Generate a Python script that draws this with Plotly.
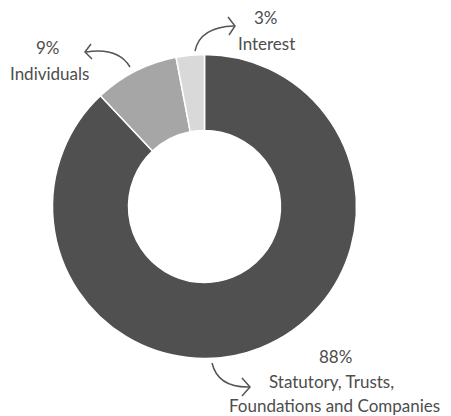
import plotly.graph_objects as go

labels = ["Statutory, Trusts, Foundations and Companies", "Individuals", "Interest"]
values = [88, 9, 3]
colors = ["#505050", "#a6a6a6", "#d9d9d9"]

# The page body has an 8px margin; draw in a figure offset by that margin.
OFF = 8
W, H = 451 - OFF, 416 - OFF


def px(x):
    return (x - OFF) / W


def py(y):
    return 1 - (y - OFF) / H


cx, cy, r = 204.5, 206.5, 152

fig = go.Figure(go.Pie(
    labels=labels,
    values=values,
    hole=0.5,
    sort=False,
    direction="clockwise",
    rotation=0,
    textinfo="none",
    hoverinfo="label+percent",
    marker=dict(colors=colors, line=dict(color="white", width=1.5)),
    domain=dict(x=[px(cx - r), px(cx + r)], y=[py(cy + r), py(cy - r)]),
    showlegend=False,
))

txt_color = "#4d4d4d"
font = dict(family="Lato, Open Sans, sans-serif", size=17, color=txt_color)

lines = [
    ("3%", 266, 17), ("Interest", 266, 43),
    ("9%", 48, 47), ("Individuals", 49, 74),
    ("88%", 335, 356), ("Statutory, Trusts,", 331, 381), ("Foundations and Companies", 334, 405),
]
annotations = []
for t, x, y in lines:
    annotations.append(dict(text=t, x=px(x), y=py(y), xref="paper", yref="paper",
                            showarrow=False, xanchor="center", yanchor="middle", font=font))


def P(x, y):
    return f"{px(x):.5f},{py(y):.5f}"


arrow_color = "#555555"
lw = 1.5
shapes = []
# Individuals arrow
shapes.append(dict(type="path", xref="paper", yref="paper",
                   path=f"M {P(130,67)} Q {P(118,47)} {P(86,52)}",
                   line=dict(color=arrow_color, width=lw)))
shapes.append(dict(type="path", xref="paper", yref="paper",
                   path=f"M {P(91,44)} L {P(85,52)} L {P(92,59)}",
                   line=dict(color=arrow_color, width=lw)))
# Interest arrow
shapes.append(dict(type="path", xref="paper", yref="paper",
                   path=f"M {P(195,51)} Q {P(200,27)} {P(234,26)}",
                   line=dict(color=arrow_color, width=lw)))
shapes.append(dict(type="path", xref="paper", yref="paper",
                   path=f"M {P(228,17)} L {P(235,26)} L {P(229,35)}",
                   line=dict(color=arrow_color, width=lw)))
# 88% arrow
shapes.append(dict(type="path", xref="paper", yref="paper",
                   path=f"M {P(212,363)} Q {P(218,388)} {P(250,387)}",
                   line=dict(color=arrow_color, width=lw)))
shapes.append(dict(type="path", xref="paper", yref="paper",
                   path=f"M {P(242,378)} L {P(250,387)} L {P(242,396)}",
                   line=dict(color=arrow_color, width=lw)))

fig.update_layout(
    width=W, height=H,
    margin=dict(l=0, r=0, t=0, b=0),
    paper_bgcolor="white", plot_bgcolor="white",
    annotations=annotations,
    shapes=shapes,
)

fig.write_html("out.html")
